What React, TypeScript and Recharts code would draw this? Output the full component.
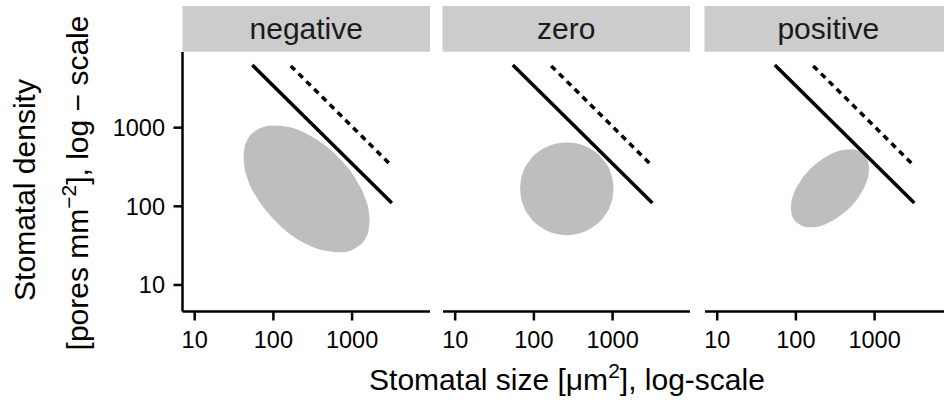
import { ComposedChart, Area, Line, XAxis, YAxis } from 'recharts';

const facets = ['negative', 'zero', 'positive'];
const sizeTicks = [10, 100, 1000];
const densityTicks = [10, 100, 1000];
const sizeDomain = [7, 9770];
const densityDomain = [4.6, 9160];

// limit lines (same in every facet)
const solidX = [54, 3200];
const solidY = [6250, 110];
const dashedX = [166, 3200];
const dashedY = [6100, 325];

// ellipse outlines: size, upper and lower density
const negativeX = [41.7, 42.9, 45.9, 61.5, 95, 147, 264, 473, 733, 1133, 1517, 1626, 1670];
const negativeHi = [424, 553, 675, 935, 1069, 1035, 839, 575, 383, 215, 115, 88, 66];
const negativeLo = [424, 317, 242, 130, 73, 48, 33, 27, 26, 30, 41, 50.5, 66];

const zeroX = [66.8, 68.2, 71.8, 89.1, 123, 170, 262, 403, 557, 769, 955, 1005, 1026];
const zeroHi = [167, 212, 258, 385, 519, 607, 650, 607, 519, 385, 258, 212, 167];
const zeroLo = [167, 132, 109, 73, 54, 46, 43, 46, 54, 73, 109, 132, 167];

const positiveX = [86.3, 87.8, 91.6, 110, 144, 189, 271, 389, 511, 670, 802, 837, 851];
const positiveHi = [95, 114, 134, 197, 281, 361, 456, 520, 531, 490, 401, 355, 301];
const positiveLo = [95, 81, 72, 59, 54, 55, 63, 80, 102, 146, 214, 252, 301];

const ellipses = [
  { x: negativeX, hi: negativeHi, lo: negativeLo },
  { x: zeroX, hi: zeroHi, lo: zeroLo },
  { x: positiveX, hi: positiveHi, lo: positiveLo },
];

const font = '"Liberation Sans", Arial, Helvetica, sans-serif';
const panelLeft = [182.5, 442.5, 704.5];
const panelWidth = 247.5;

const toPoints = (xs: number[], ys: number[]) => xs.map((x, i) => ({ x, y: ys[i] }));
const solid = toPoints(solidX, solidY);
const dashed = toPoints(dashedX, dashedY);

function Panel({ index }: { index: number }) {
  const e = ellipses[index];
  const outline = e.x.map((x, i) => ({ x, range: [e.lo[i], e.hi[i]] }));
  const first = index === 0;
  const width = first ? panelLeft[0] + panelWidth : panelWidth;
  const tickStyle = { fontSize: 23.5, fill: '#000', fontFamily: font };
  const axisStroke = { stroke: '#000', strokeWidth: 2.5 };

  return (
    <div style={{ position: 'absolute', left: first ? 0 : panelLeft[index], top: 0 }}>
      <ComposedChart
        width={width}
        height={400}
        margin={{ top: 52, right: 0, bottom: 48.5, left: 0 }}
      >
        <XAxis
          dataKey="x"
          type="number"
          scale="log"
          domain={sizeDomain}
          allowDataOverflow
          ticks={sizeTicks}
          height={40}
          tickSize={9}
          tickMargin={11}
          axisLine={axisStroke}
          tickLine={axisStroke}
          tick={tickStyle}
        />
        <YAxis
          type="number"
          scale="log"
          domain={densityDomain}
          allowDataOverflow
          ticks={densityTicks}
          hide={!first}
          width={panelLeft[0]}
          tickSize={9}
          tickMargin={8.5}
          axisLine={axisStroke}
          tickLine={axisStroke}
          tick={tickStyle}
        />
        <Area
          data={outline}
          dataKey="range"
          type="monotone"
          fill="#bebebe"
          fillOpacity={1}
          stroke="none"
          isAnimationActive={false}
        />
        <Line
          data={solid}
          dataKey="y"
          type="linear"
          stroke="#000"
          strokeWidth={3.5}
          dot={false}
          isAnimationActive={false}
        />
        <Line
          data={dashed}
          dataKey="y"
          type="linear"
          stroke="#000"
          strokeWidth={3.5}
          strokeDasharray="6 5"
          dot={false}
          isAnimationActive={false}
        />
      </ComposedChart>
    </div>
  );
}

export default function App() {
  return (
    <div
      style={{
        position: 'absolute',
        left: 0,
        top: 0,
        width: 944,
        height: 400,
        overflow: 'hidden',
        background: '#fff',
      }}
    >
      <svg width={944} height={400} style={{ position: 'absolute', left: 0, top: 0 }} fontFamily={font}>
        {facets.map((f, i) => (
          <g key={f}>
            <rect x={panelLeft[i]} y={6} width={panelWidth} height={45.7} fill="#cccccc" />
            <text x={panelLeft[i] + panelWidth / 2} y={39} textAnchor="middle" fontSize={30} fill="#1a1a1a">
              {f}
            </text>
          </g>
        ))}
        <text transform="translate(35,190) rotate(-90)" textAnchor="middle" fontSize={30} fill="#000">
          Stomatal density
        </text>
        <text transform="translate(88,183) rotate(-90)" textAnchor="middle" fontSize={30} fill="#000">
          [pores mm
          <tspan dy={-12} fontSize={21}>
            −2
          </tspan>
          <tspan dy={12}>], log − scale</tspan>
        </text>
        <text x={567} y={390} textAnchor="middle" fontSize={30} fill="#000">
          Stomatal size [μm
          <tspan dy={-12} fontSize={21}>
            2
          </tspan>
          <tspan dy={12}>], log-scale</tspan>
        </text>
      </svg>
      {facets.map((f, i) => (
        <Panel key={f} index={i} />
      ))}
    </div>
  );
}
